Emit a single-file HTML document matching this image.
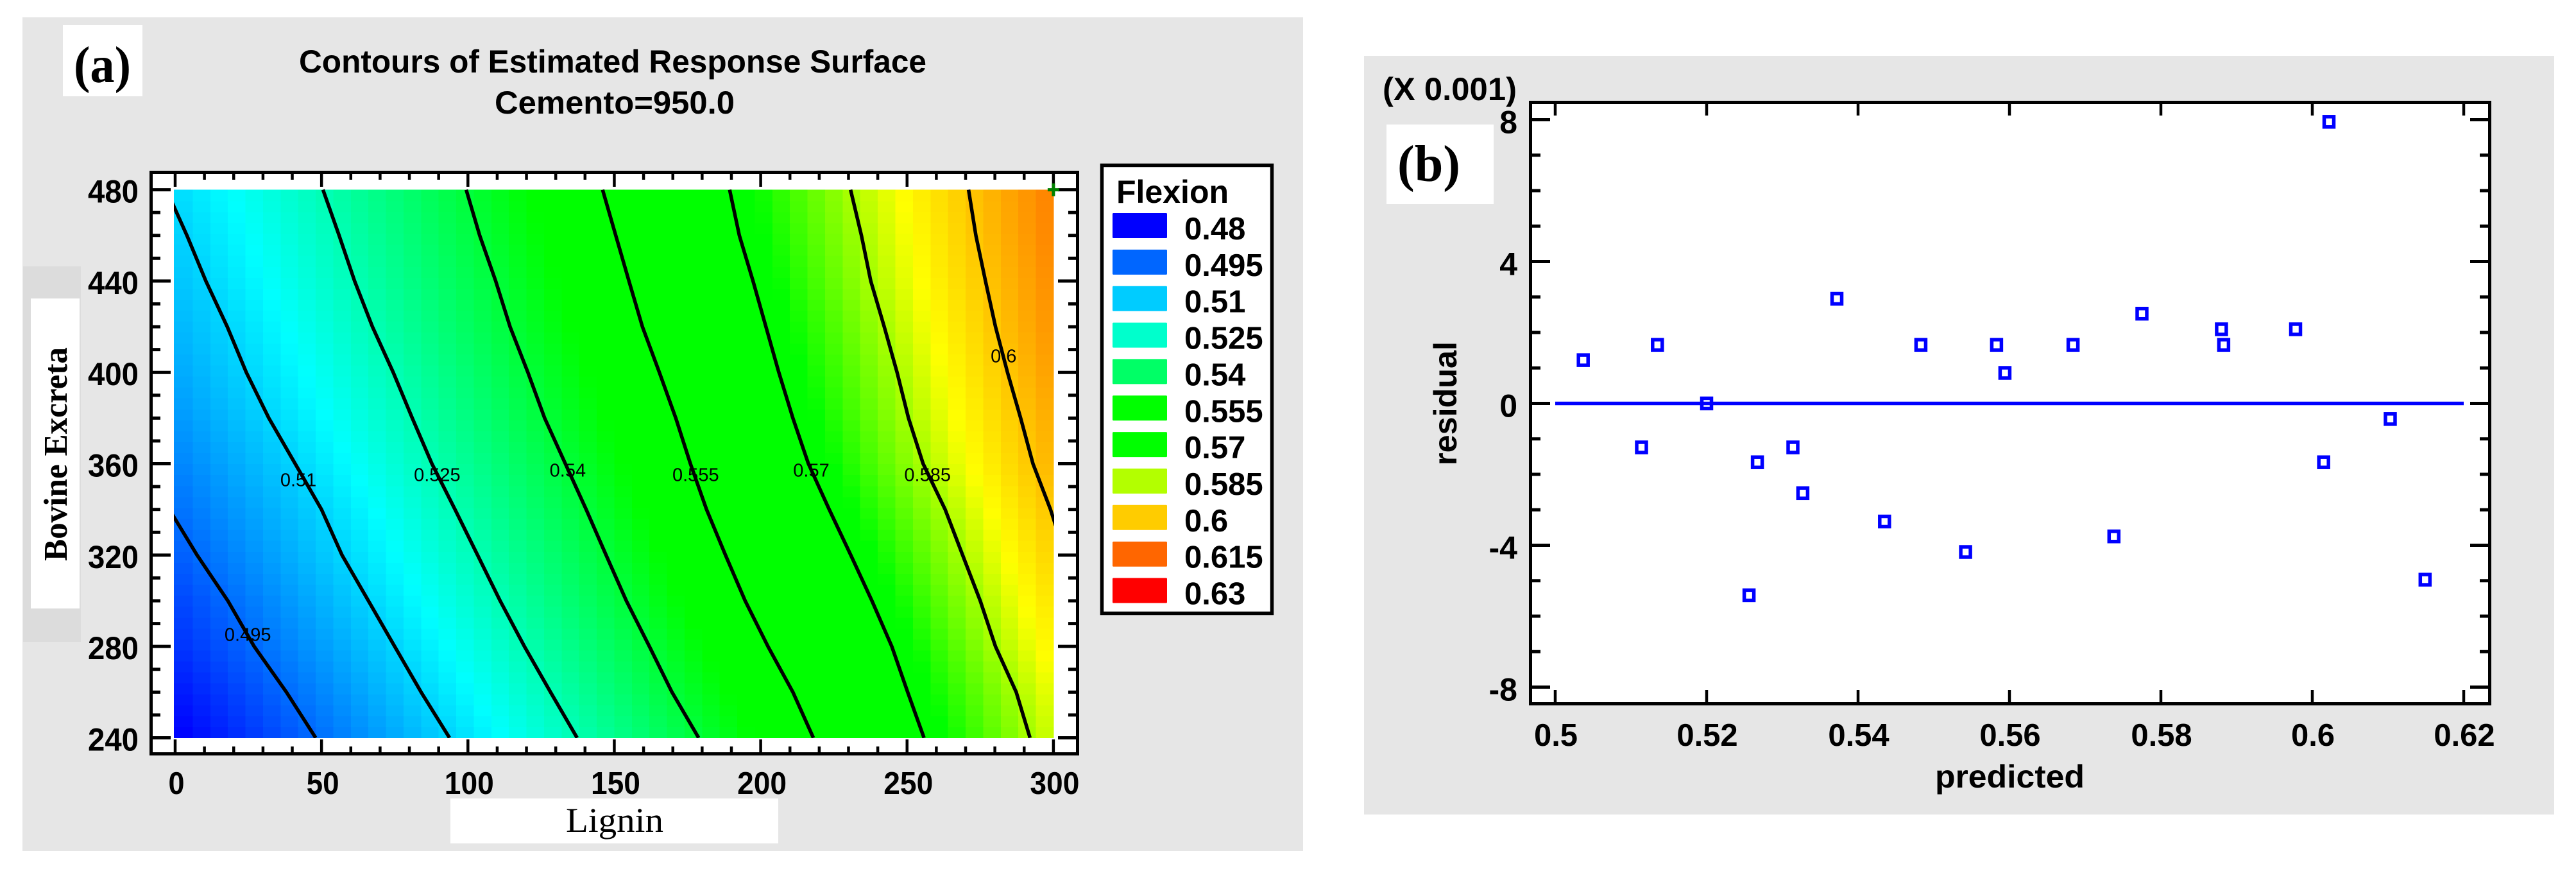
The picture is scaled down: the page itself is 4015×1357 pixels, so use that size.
<!DOCTYPE html>
<html lang="en">
<head>
<meta charset="utf-8">
<title>Contours of Estimated Response Surface and residual plot</title>
<style>
html,body{margin:0;padding:0;background:#fff}
svg{display:block}
text{font-family:"Liberation Sans",Arial,sans-serif;fill:#000}
.serif{font-family:"Liberation Serif","Times New Roman",serif}
.b{font-weight:700}
</style>
</head>
<body>
<svg id="figure" xmlns="http://www.w3.org/2000/svg" width="4015" height="1357" viewBox="0 0 4015 1357">
  <rect x="0" y="0" width="4015" height="1357" fill="#ffffff"/>

  <!-- Panel A -->
  <g id="panel-a">
    <rect x="35" y="27" width="1996" height="1299" fill="#e6e6e6"/>
    <rect x="36" y="415" width="90" height="585" fill="#dcdcdc"/>
    <rect x="48" y="465" width="76" height="483" fill="#ffffff"/>
    <rect x="702" y="1244" width="511" height="70" fill="#ffffff"/>
    <rect x="98" y="39" width="124" height="111" fill="#ffffff"/>
    <text class="serif b" x="115" y="128" font-size="80" textLength="89" lengthAdjust="spacingAndGlyphs">(a)</text>
    <text class="b" x="466" y="113" font-size="50" textLength="978" lengthAdjust="spacingAndGlyphs">Contours of Estimated Response Surface</text>
    <text class="b" x="771" y="177" font-size="50" textLength="374" lengthAdjust="spacingAndGlyphs">Cemento=950.0</text>
    <text class="serif b" transform="translate(104,874) rotate(-90)" x="0" y="0" font-size="52" textLength="333" lengthAdjust="spacingAndGlyphs">Bovine Excreta</text>
    <text class="serif" x="882" y="1296" font-size="54" textLength="152" lengthAdjust="spacingAndGlyphs">Lignin</text>
    <rect x="235.5" y="268.5" width="1444" height="906" fill="#ffffff"/>
    <g id="heatmap" shape-rendering="crispEdges"></g>
    <clipPath id="map-clip"><rect x="271" y="293" width="1372" height="857"/></clipPath>
    <g id="contours" clip-path="url(#map-clip)"></g>
    <g id="contour-labels"></g>
    <g id="axes-a"></g>
    <rect x="235.5" y="268.5" width="1444" height="906" fill="none" stroke="#000" stroke-width="5"/>
    <path id="optimum" fill="none" stroke="#008000" stroke-width="5"/>
    <rect x="1717.5" y="257.5" width="265" height="698" fill="#ffffff" stroke="#000" stroke-width="5.5"/>
    <text class="b" x="1740" y="316" font-size="50">Flexion</text>
    <g id="legend"></g>
  </g>

  <!-- Panel B -->
  <g id="panel-b">
    <rect x="2126" y="87" width="1855" height="1182" fill="#e6e6e6"/>
    <rect x="2385.5" y="159.5" width="1495" height="937" fill="#ffffff"/>
    <rect x="2161" y="194" width="167" height="124" fill="#ffffff"/>
    <text class="serif b" x="2178" y="282" font-size="81" textLength="98" lengthAdjust="spacingAndGlyphs">(b)</text>
    <text class="b" x="2155" y="156" font-size="50" textLength="209" lengthAdjust="spacingAndGlyphs">(X 0.001)</text>
    <text class="b" transform="translate(2270,725) rotate(-90)" x="0" y="0" font-size="50" textLength="193" lengthAdjust="spacingAndGlyphs">residual</text>
    <text class="b" x="3016" y="1227" font-size="50" textLength="233" lengthAdjust="spacingAndGlyphs">predicted</text>
    <g id="axes-b"></g>
    <rect x="2385.5" y="159.5" width="1495" height="937" fill="none" stroke="#000" stroke-width="5"/>
    <g id="residual-points"></g>
  </g>
</svg>
<script>
// ---------- Panel A data ----------
const aXMajor = [0, 50, 100, 150, 200, 250, 300];
const aXMinor = [10, 20, 30, 40, 60, 70, 80, 90, 110, 120, 130, 140, 160, 170, 180, 190, 210, 220, 230, 240, 260, 270, 280, 290];
const aYMajor = [240, 280, 320, 360, 400, 440, 480];
const aYMinor = [250, 260, 270, 290, 300, 310, 330, 340, 350, 370, 380, 390, 410, 420, 430, 450, 460, 470];

// Lignin position where each contour crosses each Bovine Excreta row (off-map values are estimates)
const contourRows = [480, 460, 440, 420, 400, 380, 360, 340, 320, 300, 280, 260, 240];
const contour495 = [-72, -62, -52, -42, -32, -22, -12, -2, 7.5, 18, 27, 38, 48];
const contour510 = [-3, 4, 10.5, 17.8, 24.3, 32, 41, 50, 57, 66, 75, 84, 93.7];
const contour525 = [50.5, 56, 61.3, 67.4, 74.5, 81, 87.7, 95.6, 103.3, 111, 119.3, 128.2, 137.3];
const contour540 = [99.4, 104, 109.5, 114.4, 120.5, 126.2, 133.3, 140.4, 147.2, 154.1, 162, 169.7, 178.8];
const contour555 = [146, 150.5, 155, 159.6, 165.4, 171, 176, 181.5, 188, 194.7, 202.5, 211, 218];
const contour570 = [189.4, 192.7, 197.4, 201.8, 206.2, 211, 216.3, 223.4, 230.8, 238, 244.8, 250.2, 255.8];
const contour585 = [230.7, 234.4, 237.6, 242.2, 246.6, 250.5, 255.5, 263, 269, 275, 280.2, 287.3, 292];
const contour600 = [271, 273.5, 276.8, 280.2, 284.3, 288.8, 293, 299, 304, 310, 316, 322, 328];
const contourLevels = [0.495, 0.51, 0.525, 0.54, 0.555, 0.57, 0.585, 0.6];
const contourSeries = [contour495, contour510, contour525, contour540, contour555, contour570, contour585, contour600];

const contourLabelText = ["0.495", "0.51", "0.525", "0.54", "0.555", "0.57", "0.585", "0.6"];
const contourLabelX = [24.8, 42.1, 89.5, 134.1, 177.8, 217.3, 257, 283];
const contourLabelY = [282.4, 350.2, 352.4, 354.4, 352.4, 354.4, 352.4, 404.4];

const optimumX = [300];
const optimumY = [480];

const legendLabels = ["0.48", "0.495", "0.51", "0.525", "0.54", "0.555", "0.57", "0.585", "0.6", "0.615", "0.63"];
const legendColors = ["#0000ff", "#0066ff", "#00ccff", "#00ffcc", "#00ff66", "#00ff00", "#00ff00", "#b3ff00", "#ffcc00", "#ff6600", "#ff0000"];

// Response value at which each colour is reached on the map
const colorScaleValues = [0.48, 0.516, 0.547, 0.573, 0.5914, 0.63];
const colorScaleRed = [0, 0, 0, 0, 255, 255];
const colorScaleGreen = [0, 255, 255, 255, 255, 0];
const colorScaleBlue = [255, 255, 0, 0, 0, 0];

// ---------- Panel B data ----------
const bXMajor = [0.5, 0.52, 0.54, 0.56, 0.58, 0.6, 0.62];
const bXLabels = ["0.5", "0.52", "0.54", "0.56", "0.58", "0.6", "0.62"];
const bYMajor = [-8, -4, 0, 4, 8];
const bYLabels = ["-8", "-4", "0", "4", "8"];
const bYMinor = [-7, -6, -5, -3, -2, -1, 1, 2, 3, 5, 6, 7];
const predicted = [0.5037, 0.5135, 0.5114, 0.52, 0.5372, 0.5256, 0.5267, 0.5314, 0.5327, 0.5435, 0.5483, 0.5542, 0.5583, 0.5594, 0.5684, 0.5738, 0.5775, 0.588, 0.5883, 0.5978, 0.6015, 0.6022, 0.6103, 0.6149];
const residual = [1.22, 1.65, -1.24, 0, 2.95, -5.41, -1.66, -1.24, -2.53, -3.33, 1.65, -4.19, 1.65, 0.86, 1.65, -3.75, 2.53, 2.09, 1.65, 2.09, -1.66, 7.94, -0.44, -4.97];
const zeroLineStart = [0.5];
const zeroLineEnd = [0.62];

// ---------- Axis functions ----------
const xA = v => 273 + (v - 0) * 4.563;
const yA = v => 1149.5 - (v - 240) * 3.558;
const xB = v => 2424 + (v - 0.5) * 11800;
const yB = v => 628.5 - v * 55.25;

const NS = "http://www.w3.org/2000/svg";
function mk(tag, attrs, parent, txt) {
  const el = document.createElementNS(NS, tag);
  for (const k in attrs) el.setAttribute(k, attrs[k]);
  if (txt !== undefined) el.textContent = txt;
  parent.appendChild(el);
  return el;
}
function lerp(a, b, t) { return a + (b - a) * t; }

function contourXAt(series, y) {
  for (let i = 0; i < contourRows.length - 1; i++) {
    if (y <= contourRows[i] && y >= contourRows[i + 1]) {
      return lerp(series[i], series[i + 1], (contourRows[i] - y) / (contourRows[i] - contourRows[i + 1]));
    }
  }
  return y > contourRows[0] ? series[0] : series[series.length - 1];
}
function responseAt(x, y) {
  const xs = contourSeries.map(s => contourXAt(s, y));
  let i = 0;
  while (i < xs.length - 2 && x > xs[i + 1]) i++;
  const t = (x - xs[i]) / (xs[i + 1] - xs[i]);
  return lerp(contourLevels[i], contourLevels[i + 1], t);
}
function colorFor(v) {
  const s = colorScaleValues;
  if (v <= s[0]) return "rgb(" + colorScaleRed[0] + "," + colorScaleGreen[0] + "," + colorScaleBlue[0] + ")";
  for (let i = 0; i < s.length - 1; i++) {
    if (v <= s[i + 1]) {
      const t = (v - s[i]) / (s[i + 1] - s[i]);
      const r = Math.round(lerp(colorScaleRed[i], colorScaleRed[i + 1], t));
      const g = Math.round(lerp(colorScaleGreen[i], colorScaleGreen[i + 1], t));
      const b = Math.round(lerp(colorScaleBlue[i], colorScaleBlue[i + 1], t));
      return "rgb(" + r + "," + g + "," + b + ")";
    }
  }
  return "rgb(255,0,0)";
}

// ---------- Heatmap ----------
const heatmap = document.getElementById("heatmap");
const cellCols = 50, cellRows = 50;
const cellW = 300 / cellCols, cellH = 240 / cellRows;
for (let c = 0; c < cellCols; c++) {
  for (let r = 0; r < cellRows; r++) {
    const x0 = c * cellW, y0 = 240 + r * cellH;
    const v = responseAt(x0 + cellW / 2, y0 + cellH / 2);
    const left = xA(x0) - (c === 0 ? 2 : 0);
    const right = xA(x0 + cellW);
    const cell = mk("rect", { x: left.toFixed(1), y: yA(y0 + cellH).toFixed(1), width: (right - left + 0.6).toFixed(1), height: (yA(y0) - yA(y0 + cellH) + 0.6).toFixed(1), fill: colorFor(v) }, heatmap);
    
    
  }
}

// ---------- Contours ----------
const contoursG = document.getElementById("contours");
contourSeries.forEach((series, i) => {
  const pts = series.map((x, j) => xA(x).toFixed(1) + "," + yA(contourRows[j]).toFixed(1)).join(" ");
  const line = mk("polyline", { points: pts, fill: "none", stroke: "#000", "stroke-width": 5.5, "stroke-linejoin": "round" }, contoursG);
  
  
});
const labelsG = document.getElementById("contour-labels");
contourLabelText.forEach((t, i) => {
  const lab = mk("text", { x: xA(contourLabelX[i]).toFixed(1), y: yA(contourLabelY[i]).toFixed(1), "font-size": 29, "text-anchor": "middle" }, labelsG, t);
  
  
});

// ---------- Axes A ----------
const axesA = document.getElementById("axes-a");
const A = { l: 236, r: 1679, t: 269, b: 1174 };
function tickLine(parent, x1, y1, x2, y2, w, name) {
  const t = mk("line", { x1: x1, y1: y1, x2: x2, y2: y2, stroke: "#000", "stroke-width": w }, parent);
  
  
  return t;
}
aXMajor.forEach(v => {
  const x = xA(v);
  tickLine(axesA, x, A.t, x, A.t + 22, 4.5, 'x-major-tick-top');
  tickLine(axesA, x, A.b, x, A.b - 22, 4.5, 'x-major-tick-bottom');
  const lab = mk("text", { x: x + 2, y: 1237, "font-size": 49, "font-weight": 700, "text-anchor": "middle", textLength: String(v).length === 3 ? 77 : (String(v).length === 2 ? 51 : 25), lengthAdjust: "spacingAndGlyphs" }, axesA, String(v));
  
  
});
aXMinor.forEach(v => {
  const x = xA(v);
  tickLine(axesA, x, A.t, x, A.t + 11, 4.5, 'x-minor-tick-top');
  tickLine(axesA, x, A.b, x, A.b - 11, 4.5, 'x-minor-tick-bottom');
});
aYMajor.forEach(v => {
  const y = yA(v);
  tickLine(axesA, A.l, y, A.l + 30, y, 5, 'y-major-tick-left');
  tickLine(axesA, A.r, y, A.r - 30, y, 5, 'y-major-tick-right');
  const lab = mk("text", { x: 216, y: y + 20, "font-size": 50, "font-weight": 700, "text-anchor": "end", textLength: 79, lengthAdjust: "spacingAndGlyphs" }, axesA, String(v));
  
  
});
aYMinor.forEach(v => {
  const y = yA(v);
  tickLine(axesA, A.l, y, A.l + 14, y, 5, 'y-minor-tick-left');
  tickLine(axesA, A.r, y, A.r - 14, y, 5, 'y-minor-tick-right');
});
const ox = xA(optimumX[0]), oy = yA(optimumY[0]);
document.getElementById("optimum").setAttribute("d", "M" + (ox - 9) + " " + oy + "H" + (ox + 9) + "M" + ox + " " + (oy - 10) + "V" + (oy + 10));

// ---------- Legend ----------
const legendG = document.getElementById("legend");
legendLabels.forEach((t, i) => {
  const top = 332 + i * 56.85;
  const sw = mk("rect", { x: 1734, y: top.toFixed(1), width: 85, height: 39, rx: 1.5, fill: legendColors[i] }, legendG);
  
  
  const lab = mk("text", { x: 1846, y: (top + 41).toFixed(1), "font-size": 49, "font-weight": 700 }, legendG, t);
  
  
});

// ---------- Axes B ----------
const axesB = document.getElementById("axes-b");
const B = { l: 2386, r: 3880, t: 160, b: 1096 };
bXMajor.forEach((v, i) => {
  const x = xB(v);
  tickLine(axesB, x, B.t, x, B.t + 20, 4.5, 'predicted-tick-top');
  tickLine(axesB, x, B.b, x, B.b - 21, 4.5, 'predicted-tick-bottom');
  const lab = mk("text", { x: x + 1, y: 1162, "font-size": 49, "font-weight": 700, "text-anchor": "middle" }, axesB, bXLabels[i]);
  
  
});
bYMajor.forEach((v, i) => {
  const y = yB(v);
  tickLine(axesB, B.l, y, B.l + 30, y, 5, 'residual-major-tick-left');
  tickLine(axesB, B.r, y, B.r - 30, y, 5, 'residual-major-tick-right');
  const lab = mk("text", { x: 2365, y: y + 21, "font-size": 50, "font-weight": 700, "text-anchor": "end" }, axesB, bYLabels[i]);
  
  
});
bYMinor.forEach(v => {
  const y = yB(v);
  tickLine(axesB, B.l, y, B.l + 15, y, 5, 'residual-minor-tick-left');
  tickLine(axesB, B.r, y, B.r - 15, y, 5, 'residual-minor-tick-right');
});

// ---------- Residual points ----------
const pointsG = document.getElementById("residual-points");
const zero = mk("line", { x1: xB(zeroLineStart[0]), y1: yB(0), x2: xB(zeroLineEnd[0]), y2: yB(0), stroke: "#0000ff", "stroke-width": 5.5 }, pointsG);


predicted.forEach((p, i) => {
  const pt = mk("rect", { x: (xB(p) - 7.5).toFixed(1), y: (yB(residual[i]) - 8).toFixed(1), width: 15, height: 16, fill: "none", stroke: "#0000ff", "stroke-width": 5.5 }, pointsG);
  
  
});
</script>
</body>
</html>
